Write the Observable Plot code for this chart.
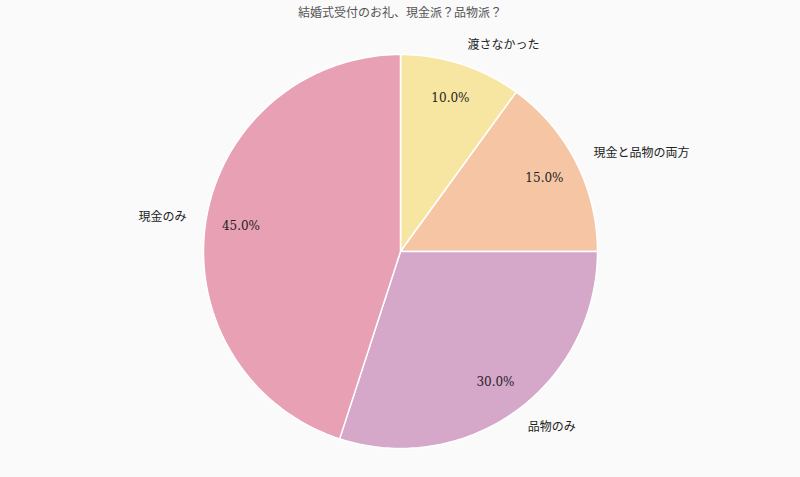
<!DOCTYPE html>
<html><head><meta charset="utf-8">
<script src="https://cdn.jsdelivr.net/npm/d3@7"></script>
<script src="https://cdn.jsdelivr.net/npm/@observablehq/plot@0.6"></script>
<style>
html,body{margin:0;padding:0;background:#fafafa;}
#title{width:800px;height:26px;line-height:26px;text-align:center;font-family:"DejaVu Serif","Noto Sans CJK JP",serif;font-size:12px;color:#555;}
</style></head>
<body>
<div id="title">結婚式受付のお礼、現金派？品物派？</div>
<div id="chart"></div>
<script>
const categories = ["渡さなかった", "現金と品物の両方", "品物のみ", "現金のみ"];
const shares = [10, 15, 30, 45];
const colors = ["#f7e6a1", "#f5c5a4", "#d5a7c8", "#e8a0b4"];

const total = d3.sum(shares);
let acc = 0;
const slices = categories.map((c, i) => {
  const a0 = acc / total * 2 * Math.PI;
  acc += shares[i];
  const a1 = acc / total * 2 * Math.PI;
  const mid = (a0 + a1) / 2;
  return {cat: c, value: shares[i], a0, a1, mid, color: colors[i]};
});
const poly = [];
for (const s of slices) {
  poly.push({cat: s.cat, x: 0, y: 0});
  const n = 120;
  for (let k = 0; k <= n; k++) {
    const a = s.a0 + (s.a1 - s.a0) * k / n;
    poly.push({cat: s.cat, x: Math.sin(a), y: Math.cos(a)});
  }
  poly.push({cat: s.cat, x: 0, y: 0});
}
const labelR = 1.1, pctR = 0.82;
const lab = slices.map(s => ({cat: s.cat, x: labelR * Math.sin(s.mid), y: labelR * Math.cos(s.mid), pct: s.value.toFixed(1) + "%", px: pctR * Math.sin(s.mid), py: pctR * Math.cos(s.mid)}));

const R = 197, W = 800, H = 451, cx = 400, cy = 225;
const font = "'DejaVu Serif','Noto Sans CJK JP',serif";
const chart = Plot.plot({
  width: W, height: H,
  margin: 0,
  style: {background: "#fafafa", fontFamily: font},
  x: {domain: [-cx / R, (W - cx) / R], range: [0, W], axis: null},
  y: {domain: [-(H - cy) / R, cy / R], range: [H, 0], axis: null},
  color: {domain: categories, range: colors},
  marks: [
    Plot.line(poly, {x: "x", y: "y", z: "cat", fill: "cat", stroke: "white", strokeWidth: 1.5, strokeLinejoin: "round", curve: "linear"}),
    Plot.text(lab.filter(d => d.x >= 0), {x: "x", y: "y", text: "cat", textAnchor: "start", fontSize: 12, fill: "#222"}),
    Plot.text(lab.filter(d => d.x < 0), {x: "x", y: "y", text: "cat", textAnchor: "end", fontSize: 12, fill: "#222"}),
    Plot.text(lab, {x: "px", y: "py", text: "pct", fontSize: 12, fill: "#222"})
  ]
});
document.getElementById("chart").appendChild(chart);
</script>
</body></html>
